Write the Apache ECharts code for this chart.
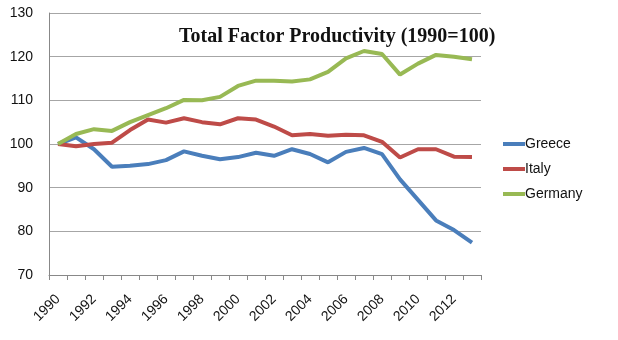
<!DOCTYPE html>
<html><head><meta charset="utf-8">
<script src="https://cdn.jsdelivr.net/npm/echarts@6/dist/echarts.min.js"></script>
<style>html,body{margin:0;padding:0;background:#fff}#c{width:618px;height:340px}</style>
</head><body><div id="c"></div>
<script>
const years = ['1990','1991','1992','1993','1994','1995','1996','1997','1998','1999','2000','2001','2002','2003','2004','2005','2006','2007','2008','2009','2010','2011','2012','2013'];
const greece  = [100,101.5,98.8,94.8,95.0,95.4,96.3,98.3,97.3,96.5,97.0,98.0,97.3,98.8,97.7,95.8,98.2,99.1,97.7,91.9,87.2,82.5,80.3,77.4];
const italy   = [100,99.5,100.0,100.3,103.2,105.6,104.9,105.9,105.0,104.5,105.9,105.6,104.0,102.0,102.3,101.9,102.1,102.0,100.5,96.9,98.8,98.8,97.1,97.0];
const germany = [100,102.3,103.4,103.0,105.0,106.6,108.2,110.1,110.0,110.8,113.3,114.5,114.5,114.3,114.8,116.5,119.6,121.3,120.6,115.9,118.4,120.4,120.0,119.4];
const yTicks = {min:70, max:130, interval:10};
const seriesNames = ['Greece','Italy','Germany'];
const colors = ['#4a7ebb','#be4b48','#98b954'];

const chart = echarts.init(document.getElementById('c'), null, {renderer:'canvas'});
const mk = (name, data, color) => ({
  name, type:'line', data, symbol:'none', smooth:false,
  lineStyle:{width:4, color}, itemStyle:{color}
});
chart.setOption({
  animation:false,
  backgroundColor:'#fff',
  title:{
    text:'Total Factor Productivity (1990=100)',
    left:174, top:22,
    textStyle:{fontFamily:'Liberation Serif, DejaVu Serif, serif', fontWeight:'bold', fontSize:20, color:'#111'}
  },
  legend:{
    orient:'vertical', left:498, top:132, itemGap:11, itemWidth:22, itemHeight:4,
    icon:'rect',
    data:seriesNames,
    textStyle:{fontFamily:'Liberation Sans, Arial, sans-serif', fontSize:14, color:'#111', padding:[0,0,0,-5]}
  },
  grid:{left:49, right:137, top:13, bottom:65, containLabel:false},
  xAxis:{
    type:'category', data:years, boundaryGap:true,
    axisLine:{lineStyle:{color:'#888', width:1}},
    axisTick:{show:true, interval:0, length:5, lineStyle:{color:'#888'}},
    axisLabel:{interval:1, rotate:45, margin:22, fontSize:14, color:'#111', fontFamily:'Liberation Sans, Arial, sans-serif'}
  },
  yAxis:{
    type:'value', min:yTicks.min, max:yTicks.max, interval:yTicks.interval,
    axisLine:{show:true, lineStyle:{color:'#888'}},
    axisTick:{show:false},
    splitLine:{lineStyle:{color:'#a6a6a6', width:1}},
    axisLabel:{fontSize:14, color:'#111', margin:16, fontFamily:'Liberation Sans, Arial, sans-serif'}
  },
  series:[mk('Greece',greece,colors[0]), mk('Italy',italy,colors[1]), mk('Germany',germany,colors[2])]
});
</script></body></html>
